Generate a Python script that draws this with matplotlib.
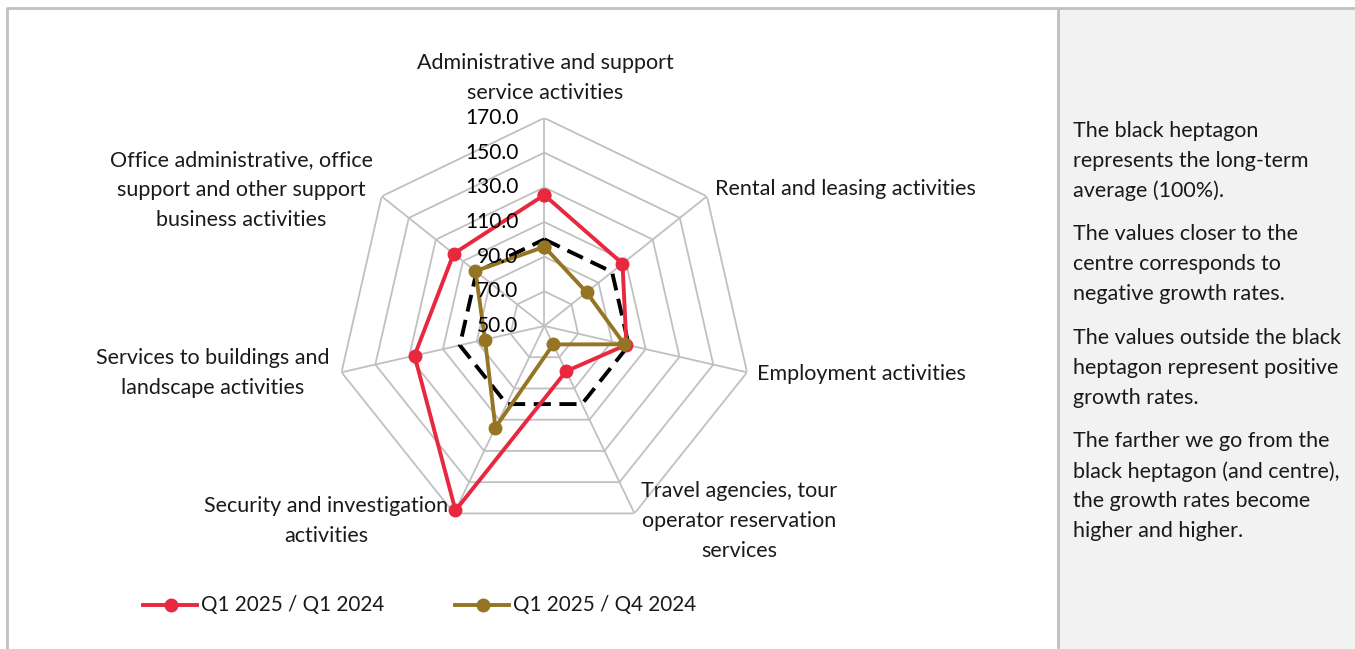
import numpy as np
import matplotlib
matplotlib.use("Agg")
import matplotlib.pyplot as plt
from matplotlib.transforms import offset_copy
from matplotlib.patches import Rectangle
from matplotlib.lines import Line2D

plt.rcParams['font.family'] = ['Lato', 'DejaVu Sans']

# categories clockwise from the top
categories = [
    "Administrative and support\nservice activities",
    "Rental and leasing activities",
    "Employment activities",
    "Travel agencies, tour\noperator reservation\nservices",
    "Security and investigation\nactivities",
    "Services to buildings and\nlandscape activities",
    "Office administrative, office\nsupport and other support\nbusiness activities",
]
q1_vs_q1 = [125.6, 107.7, 98.6, 79.0, 168.1, 126.8, 116.9]
q1_vs_q4 = [95.7, 81.2, 97.4, 61.8, 115.0, 85.1, 100.8]
long_term = [100, 100, 100, 100, 100, 100, 100]
rings = [70, 90, 110, 130, 150, 170]
tick_vals = [50, 70, 90, 110, 130, 150, 170]
series_names = ["Q1 2025 / Q1 2024", "Q1 2025 / Q4 2024"]

notes = [
    "The black heptagon\nrepresents the long-term\naverage (100%).",
    "The values closer to the\ncentre corresponds to\nnegative growth rates.",
    "The values outside the black\nheptagon represent positive\ngrowth rates.",
    "The farther we go from the\nblack heptagon (and centre),\nthe growth rates become\nhigher and higher.",
]

RED = "#E8283F"
GOLD = "#957524"
GRID = "#C0C0C0"
TXT = "#1a1a1a"
FS = 15.5

W, H = 1355, 649
fig = plt.figure(figsize=(W / 100, H / 100), dpi=100)

def fx(x):
    return x / W

def fy(y):
    return 1 - y / H

# frame and right side panel
fig.patches.append(Rectangle((fx(1058), 0), fx(W - 1058), fy(8), transform=fig.transFigure,
                             facecolor="#F2F2F2", edgecolor="none", zorder=0))
fig.lines.append(Line2D([fx(7), fx(7), fx(W)], [0, fy(8), fy(8)], transform=fig.transFigure,
                        color=GRID, lw=2))
fig.lines.append(Line2D([fx(1058), fx(1058)], [0, fy(8)], transform=fig.transFigure,
                        color=GRID, lw=2))

# radar axes: centre (544, 326), radius 208 px
cx, cy, R = 544.3, 326, 208
ax = fig.add_axes([fx(cx - R), fy(cy + R), fx(2 * R), (2 * R) / H], projection='polar')
ax.set_theta_zero_location('N')
ax.set_theta_direction(-1)
ax.set_ylim(50, 170)
ax.grid(False)
ax.set_xticks([])
ax.set_yticks([])
ax.spines['polar'].set_visible(False)
ax.patch.set_alpha(0)

n = len(categories)
theta = np.arange(n) * 2 * np.pi / n
tc = np.append(theta, theta[0])

for r in rings:
    ax.plot(tc, [r] * (n + 1), color=GRID, lw=1.3, zorder=1)
for t in theta:
    ax.plot([t, t], [50, 170], color=GRID, lw=1.3, zorder=1)

ax.plot(tc, long_term + long_term[:1], color="black", lw=2.8, dashes=(4.4, 2.2), zorder=2)
ax.plot(tc, q1_vs_q1 + q1_vs_q1[:1], color=RED, lw=2.8, marker='o', ms=9,
        zorder=3, clip_on=False)
ax.plot(tc, q1_vs_q4 + q1_vs_q4[:1], color=GOLD, lw=2.8, marker='o', ms=9,
        zorder=4, clip_on=False)

tr = offset_copy(ax.transData, fig=fig, x=-26, y=0, units='dots')
for v in tick_vals:
    ax.text(0, v, f"{v:.1f}", transform=tr, ha='right', va='center', fontsize=15,
            color="black", zorder=5)

# category labels (pixel anchors)
label_pos = [
    (545, 78, 'center'),
    (715, 189, 'left'),
    (757, 374, 'left'),
    (739, 521, 'center'),
    (326, 521, 'center'),
    (213, 373, 'center'),
    (241, 190, 'center'),
]
for lab, (x, y, ha) in zip(categories, label_pos):
    fig.text(fx(x), fy(y), lab, ha=ha, va='center', fontsize=FS, color=TXT,
             linespacing=1.6, multialignment='center')

# legend
for (x0, color, name) in [(143, RED, series_names[0]), (455, GOLD, series_names[1])]:
    fig.lines.append(Line2D([fx(x0), fx(x0 + 54)], [fy(605), fy(605)], transform=fig.transFigure,
                            color=color, lw=2.8))
    fig.lines.append(Line2D([fx(x0 + 28)], [fy(605)], transform=fig.transFigure,
                            color=color, marker='o', ms=9))
    fig.text(fx(x0 + 58), fy(605), name, ha='left', va='center', fontsize=14.9, color=TXT)

# notes in side panel
ys = [161, 264, 368, 486]
for note, y in zip(notes, ys):
    fig.text(fx(1073), fy(y), note, ha='left', va='center', fontsize=FS, color=TXT,
             linespacing=1.6)

fig.savefig("out.png", dpi=100)
